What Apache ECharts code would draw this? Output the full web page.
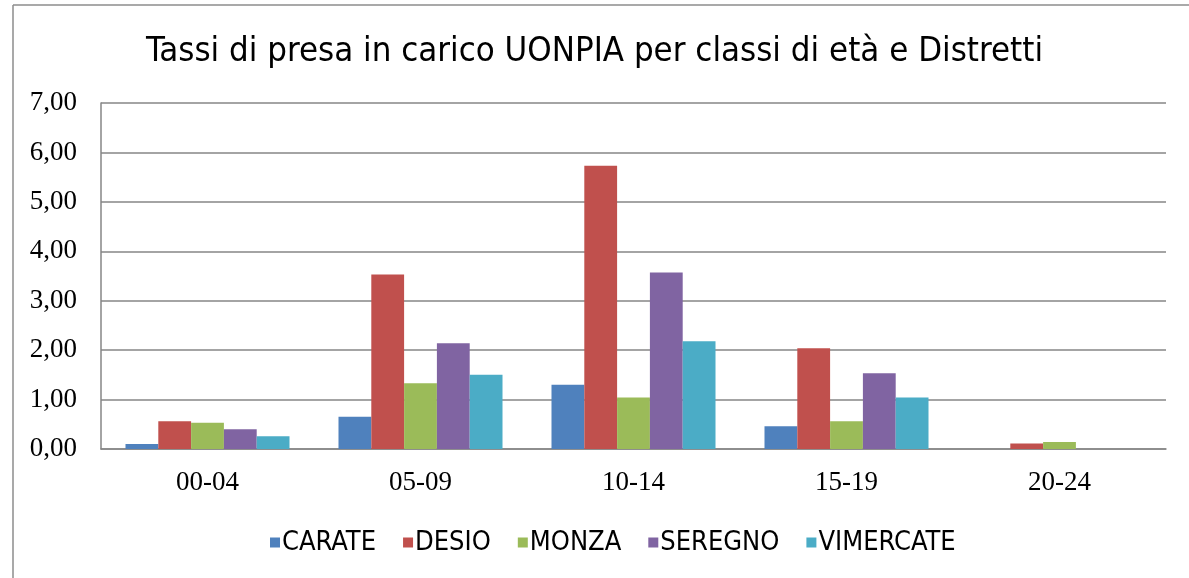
<!DOCTYPE html>
<html>
<head>
<meta charset="utf-8">
<script src="https://cdn.jsdelivr.net/npm/echarts@6/dist/echarts.min.js"></script>
<style>html,body{margin:0;padding:0;background:#fff}#c{width:1189px;height:578px}</style>
</head>
<body>
<div id="c"></div>
<script>
const categories = ['00-04', '05-09', '10-14', '15-19', '20-24'];
const seriesNames = ['CARATE', 'DESIO', 'MONZA', 'SEREGNO', 'VIMERCATE'];
const carate    = [0.10, 0.65, 1.30, 0.46, 0.00];
const desio     = [0.56, 3.53, 5.73, 2.04, 0.11];
const monza     = [0.53, 1.33, 1.04, 0.56, 0.14];
const seregno   = [0.40, 2.14, 3.57, 1.53, 0.00];
const vimercate = [0.26, 1.50, 2.18, 1.04, 0.00];
const yTicks = [0, 1, 2, 3, 4, 5, 6, 7];

const values = [carate, desio, monza, seregno, vimercate];
const colors = ['#4F81BD', '#C0504D', '#9BBB59', '#8064A2', '#4BACC6'];
const sansNarrow = "'Liberation Sans Narrow', 'DejaVu Sans Condensed', sans-serif";
const serif = "'Liberation Serif', serif";

const chart = echarts.init(document.getElementById('c'), null, {renderer: 'canvas'});
chart.setOption({
  animation: false,
  backgroundColor: '#fff',
  title: {
    text: 'Tassi di presa in carico UONPIA per classi di età e Distretti',
    left: 'center',
    top: 30,
    textStyle: {fontFamily: sansNarrow, fontSize: 34.5, fontWeight: 'normal', color: '#000'}
  },
  legend: {
    data: seriesNames,
    bottom: 17,
    left: 265,
    itemWidth: 10,
    itemHeight: 10,
    itemGap: 27,
    icon: 'rect',
    textStyle: {fontFamily: sansNarrow, fontSize: 27, color: '#000', padding: [0, 0, 0, -3]}
  },
  grid: {left: 101, right: 23, top: 103, bottom: 129, containLabel: false},
  xAxis: {
    type: 'category',
    data: categories,
    axisLine: {lineStyle: {color: '#868686', width: 1.5}},
    axisTick: {show: false},
    axisLabel: {fontFamily: serif, fontSize: 27, color: '#000', margin: 20}
  },
  yAxis: {
    type: 'value',
    min: yTicks[0],
    max: yTicks[yTicks.length - 1],
    interval: 1,
    axisLine: {show: true, lineStyle: {color: '#868686', width: 1.5}},
    axisTick: {show: false},
    splitLine: {lineStyle: {color: '#868686', width: 1.5}},
    axisLabel: {
      fontFamily: serif, fontSize: 27, color: '#000', margin: 24,
      formatter: v => v.toFixed(2).replace('.', ',')
    }
  },
  series: seriesNames.map((n, i) => ({
    name: n,
    type: 'bar',
    data: values[i],
    barGap: '0%',
    barCategoryGap: '23%',
    itemStyle: {color: colors[i]}
  })),
  graphic: [
    {type: 'line', shape: {x1: 13, y1: 5, x2: 1189, y2: 5}, style: {stroke: '#8c8c8c', lineWidth: 1.5}},
    {type: 'line', shape: {x1: 13, y1: 5, x2: 13, y2: 578}, style: {stroke: '#8c8c8c', lineWidth: 1.5}}
  ]
});
</script>
</body>
</html>
